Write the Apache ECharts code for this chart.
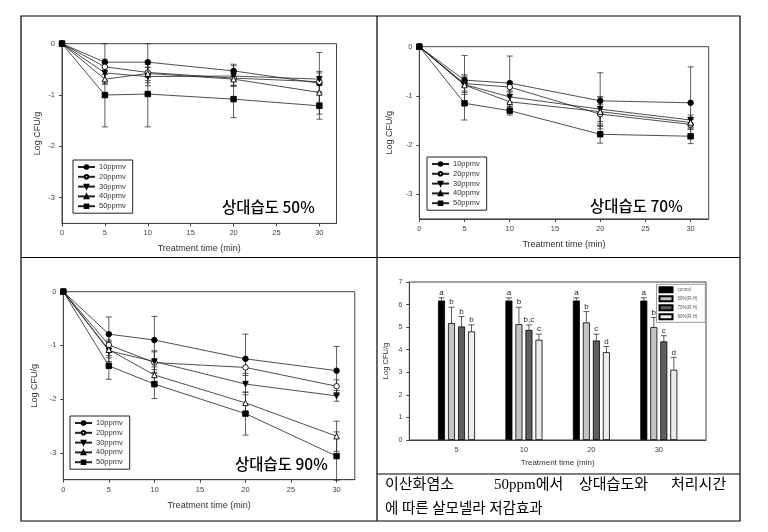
<!DOCTYPE html>
<html><head><meta charset="utf-8">
<script src="https://cdn.jsdelivr.net/npm/echarts@6/dist/echarts.min.js"></script>
<style>html,body{margin:0;padding:0;background:#fff}#c{width:768px;height:532px}</style>
</head><body><div id="c"></div>
<script>
// ---------- data ----------
const times = [0, 5, 10, 20, 30];
const seriesNames = ['10ppmv', '20ppmv', '30ppmv', '40ppmv', '50ppmv'];
const xTicks = [0, 5, 10, 15, 20, 25, 30];
const yTicks = [0, -1, -2, -3];

// RH 50%
const rh50_10 = [0, -0.36, -0.36, -0.53, -0.77];
const rh50_20 = [0, -0.45, -0.56, -0.67, -0.74];
const rh50_30 = [0, -0.57, -0.64, -0.63, -0.69];
const rh50_40 = [0, -0.69, -0.58, -0.69, -0.95];
const rh50_50 = [0, -1.00, -0.98, -1.08, -1.21];
const rh50_10_err = [0, 0.36, 0.36, 0.13, 0.60];
const rh50_20_err = [0, 0.15, 0.10, 0.15, 0.20];
const rh50_30_err = [0, 0.20, 0.18, 0.20, 0.12];
const rh50_40_err = [0, 0.10, 0.18, 0.12, 0.20];
const rh50_50_err = [0, 0.62, 0.64, 0.36, 0.26];

// RH 70%
const rh70_10 = [0, -0.68, -0.74, -1.10, -1.14];
const rh70_20 = [0, -0.75, -0.82, -1.37, -1.58];
const rh70_30 = [0, -0.77, -1.02, -1.27, -1.49];
const rh70_40 = [0, -0.78, -1.12, -1.32, -1.54];
const rh70_50 = [0, -1.15, -1.30, -1.78, -1.82];
const rh70_10_err = [0, 0.50, 0.55, 0.57, 0.73];
const rh70_20_err = [0, 0.15, 0.10, 0.20, 0.10];
const rh70_30_err = [0, 0.20, 0.12, 0.25, 0.10];
const rh70_40_err = [0, 0.15, 0.10, 0.30, 0.10];
const rh70_50_err = [0, 0.34, 0.09, 0.18, 0.15];

// RH 90%
const rh90_10 = [0, -0.79, -0.90, -1.25, -1.47];
const rh90_20 = [0, -0.99, -1.32, -1.41, -1.76];
const rh90_30 = [0, -1.10, -1.30, -1.72, -1.94];
const rh90_40 = [0, -1.08, -1.55, -2.07, -2.69];
const rh90_50 = [0, -1.38, -1.72, -2.27, -3.06];
const rh90_10_err = [0, 0.32, 0.44, 0.46, 0.45];
const rh90_20_err = [0, 0.20, 0.20, 0.15, 0.12];
const rh90_30_err = [0, 0.20, 0.20, 0.20, 0.10];
const rh90_40_err = [0, 0.15, 0.15, 0.20, 0.28];
const rh90_50_err = [0, 0.25, 0.27, 0.40, 0.45];

// Bar panel (50 ppm ClO2)
const barTimes = ['5', '10', '20', '30'];
const barNames = ['control', '50%(R.H)', '70%(R.H)', '90%(R.H)'];
const barControl = [6.18, 6.18, 6.18, 6.18];
const barRH50 = [5.18, 5.13, 5.21, 5.00];
const barRH70 = [5.03, 4.88, 4.41, 4.37];
const barRH90 = [4.81, 4.44, 3.89, 3.11];
const barControl_err = [0.12, 0.12, 0.12, 0.12];
const barRH50_err = [0.70, 0.75, 0.48, 0.43];
const barRH70_err = [0.44, 0.22, 0.28, 0.25];
const barRH90_err = [0.29, 0.25, 0.25, 0.55];
const barControl_lbl = ['a', 'a', 'a', 'a'];
const barRH50_lbl = ['b', 'b', 'b', 'b'];
const barRH70_lbl = ['b', 'b,c', 'c', 'c'];
const barRH90_lbl = ['b', 'c', 'd', 'd'];

const panelLabels = ['상대습도 50%', '상대습도 70%', '상대습도 90%'];
const captionLine1 = ['이산화염소', '50ppm에서', '상대습도와', '처리시간'];
const captionLine2 = '에 따른 살모넬라 저감효과';

// ---------- styles ----------
const FONT = 'Liberation Sans, Arial, sans-serif';
const KFONT = 'Noto Sans CJK KR, sans-serif';
const CFONT = 'Liberation Serif, Noto Sans CJK KR, serif';
const lineCol = '#222';
const symbolDefs = [
  {symbol: 'circle', color: '#000', rotate: 0},
  {symbol: 'circle', color: '#fff', rotate: 0},
  {symbol: 'triangle', color: '#000', rotate: 180},
  {symbol: 'triangle', color: '#fff', rotate: 0},
  {symbol: 'rect', color: '#000', rotate: 0}
];
const barColors = ['#000000', '#c4c4c4', '#5e5e5e', '#ececec'];

const panels = [
  {means: [rh50_10, rh50_20, rh50_30, rh50_40, rh50_50], errs: [rh50_10_err, rh50_20_err, rh50_30_err, rh50_40_err, rh50_50_err],
   grid: {left: 62, top: 43.7, width: 274.5, height: 179.7}, yGap: 20, xGap: 21, legend: {left: 73, top: 160}, label: {left: 222, top: 199}},
  {means: [rh70_10, rh70_20, rh70_30, rh70_40, rh70_50], errs: [rh70_10_err, rh70_20_err, rh70_30_err, rh70_40_err, rh70_50_err],
   grid: {left: 419.3, top: 46.7, width: 289.4, height: 172.2}, yGap: 25, xGap: 21, legend: {left: 427, top: 157}, label: {left: 590, top: 198}},
  {means: [rh90_10, rh90_20, rh90_30, rh90_40, rh90_50], errs: [rh90_10_err, rh90_20_err, rh90_30_err, rh90_40_err, rh90_50_err],
   grid: {left: 63.3, top: 291.7, width: 291.5, height: 188}, yGap: 24, xGap: 21, legend: {left: 70, top: 416}, label: {left: 235, top: 456}}
];

const grids = [], xAxes = [], yAxes = [], series = [], legends = [], titles = [];

function errRender(params, api) {
  const x = api.value(0), y = api.value(1), e = api.value(2);
  if (!e) return null;
  const top = api.coord([x, y + e]);
  const bot = api.coord([x, y - e]);
  const s = {stroke: '#333', lineWidth: 0.8};
  return {type: 'group', children: [
    {type: 'line', shape: {x1: top[0], y1: top[1], x2: bot[0], y2: bot[1]}, style: s},
    {type: 'line', shape: {x1: top[0] - 3, y1: top[1], x2: top[0] + 3, y2: top[1]}, style: s},
    {type: 'line', shape: {x1: bot[0] - 3, y1: bot[1], x2: bot[0] + 3, y2: bot[1]}, style: s}
  ]};
}

const axisText = {fontFamily: FONT, fontSize: 7.5, color: '#444'};
const nameText = {fontFamily: FONT, fontSize: 9, color: '#333'};

panels.forEach((p, gi) => {
  grids.push(Object.assign({show: true, borderColor: '#444', borderWidth: 1, backgroundColor: '#fff'}, p.grid));
  xAxes.push({gridIndex: gi, type: 'value', min: 0, max: 32, position: 'bottom',
    name: 'Treatment time (min)', nameLocation: 'middle', nameGap: p.xGap, nameTextStyle: nameText,
    axisLine: {show: true, onZero: false, lineStyle: {color: '#444', width: 1}},
    axisTick: {show: true, inside: false, length: 3, customValues: xTicks, lineStyle: {color: '#444'}},
    axisLabel: Object.assign({customValues: xTicks, margin: 6}, axisText),
    splitLine: {show: false}});
  yAxes.push({gridIndex: gi, type: 'value', min: -3.5, max: 0,
    name: 'Log CFU/g', nameLocation: 'middle', nameGap: p.yGap, nameTextStyle: nameText,
    axisLine: {show: true, onZero: false, lineStyle: {color: '#444', width: 1}},
    axisTick: {show: true, inside: false, length: 3, customValues: yTicks, lineStyle: {color: '#444'}},
    axisLabel: Object.assign({customValues: yTicks, margin: 7}, axisText),
    splitLine: {show: false}});
  p.means.forEach((m, si) => {
    const sd = symbolDefs[si];
    series.push({type: 'custom', name: 'err' + gi + '_' + si, xAxisIndex: gi, yAxisIndex: gi, z: 1,
      renderItem: errRender, data: times.map((t, i) => [t, m[i], p.errs[si][i]]), silent: true});
    series.push({type: 'line', name: seriesNames[si], xAxisIndex: gi, yAxisIndex: gi, z: 3,
      data: times.map((t, i) => [t, m[i]]), symbol: sd.symbol, symbolRotate: sd.rotate,
      symbolSize: 5.5, showAllSymbol: true,
      lineStyle: {color: lineCol, width: 0.8},
      itemStyle: {color: sd.color, borderColor: '#000', borderWidth: 0.9},
      emphasis: {disabled: true}, animation: false});
  });
  legends.push({show: true, data: seriesNames, orient: 'vertical', left: p.legend.left, top: p.legend.top,
    backgroundColor: '#fff', borderColor: '#222', borderWidth: 1, padding: [3, 7, 3, 4],
    itemWidth: 17, itemHeight: 4.5, itemGap: 1.8, selectedMode: false,
    textStyle: {fontFamily: FONT, fontSize: 7.5, color: '#333', lineHeight: 7, padding: [0, 0, 0, -1]}});
  titles.push({text: panelLabels[gi], left: p.label.left, top: p.label.top, padding: 0,
    textStyle: {fontFamily: KFONT, fontSize: 15.5, fontWeight: 500, color: '#000'}});
});

// ---------- bar panel ----------
const gb = 3;
const barW = 7, barGapPx = 3;
grids.push({show: true, borderColor: '#444', borderWidth: 1, left: 409.3, top: 282, width: 296.7, height: 158});
const barCatIdx = barTimes.map((t, i) => i + 1);
xAxes.push({gridIndex: gb, type: 'value', min: 0.3, max: 4.7,
  name: 'Treatment time (min)', nameLocation: 'middle', nameGap: 19, nameTextStyle: Object.assign({}, nameText, {fontSize: 8}),
  axisLine: {show: true, onZero: false, lineStyle: {color: '#444'}},
  axisTick: {show: false},
  axisLabel: Object.assign({customValues: barCatIdx, margin: 6, formatter: v => barTimes[Math.round(v) - 1]}, axisText),
  splitLine: {show: false}});
yAxes.push({gridIndex: gb, type: 'value', min: 0, max: 7, interval: 1,
  name: 'Log CFU/g', nameLocation: 'middle', nameGap: 19, nameTextStyle: Object.assign({}, nameText, {fontSize: 7.5}),
  axisLine: {show: true, lineStyle: {color: '#444'}},
  axisTick: {show: true, inside: false, length: 3, lineStyle: {color: '#444'}},
  axisLabel: Object.assign({margin: 7}, axisText, {fontSize: 7}),
  splitLine: {show: false}});
const barMeans = [barControl, barRH50, barRH70, barRH90];
const barErrs = [barControl_err, barRH50_err, barRH70_err, barRH90_err];
const barLbls = [barControl_lbl, barRH50_lbl, barRH70_lbl, barRH90_lbl];
barMeans.forEach((m, si) => {
  series.push({type: 'bar', name: barNames[si], xAxisIndex: gb, yAxisIndex: gb, z: 2,
    barWidth: barW, barGap: (barGapPx / barW * 100) + '%',
    data: m.map((v, i) => [barCatIdx[i], v]),
    itemStyle: {color: barColors[si], borderColor: '#000', borderWidth: 0.8},
    emphasis: {disabled: true}, animation: false});
});
barMeans.forEach((m, si) => {
  const off = (si - 1.5) * (barW + barGapPx);
  series.push({type: 'custom', name: 'barerr' + si, xAxisIndex: gb, yAxisIndex: gb, z: 3, silent: true,
    data: m.map((v, i) => [barCatIdx[i], v, barErrs[si][i]]),
    renderItem: function (params, api) {
      const x = api.value(0), y = api.value(1), e = api.value(2);
      const base = api.coord([x, y]);
      const top = api.coord([x, y + e]);
      const cx = base[0] + off;
      const s = {stroke: '#333', lineWidth: 0.8};
      return {type: 'group', children: [
        {type: 'line', shape: {x1: cx, y1: base[1], x2: cx, y2: top[1]}, style: s},
        {type: 'line', shape: {x1: cx - 3, y1: top[1], x2: cx + 3, y2: top[1]}, style: s},
        {type: 'text', style: {text: barLbls[si][params.dataIndex], x: cx, y: top[1] - 1,
          align: 'center', verticalAlign: 'bottom', fontFamily: FONT, fontSize: 8, fill: '#222'}}
      ]};
    }});
});
legends.push({show: true, data: barNames, orient: 'vertical', left: 656.5, top: 284.3,
  backgroundColor: '#fff', borderColor: '#999', borderWidth: 1, padding: [2, 8, 2, 2],
  icon: 'rect', itemWidth: 13, itemHeight: 5, itemGap: 2, selectedMode: false,
  textStyle: {fontFamily: FONT, fontSize: 4.5, color: '#555', lineHeight: 5}});

// ---------- table frame & caption ----------
const L = 21, R = 740, T = 16, B = 521, MX = 377, MY = 257.5, CY = 474;
const frameStyle = {stroke: '#000', lineWidth: 1.2};
const graphic = [
  {type: 'rect', shape: {x: L, y: T, width: R - L, height: B - T}, style: {fill: 'none', stroke: '#000', lineWidth: 1.2}, z: 100},
  {type: 'line', shape: {x1: MX, y1: T, x2: MX, y2: B}, style: frameStyle, z: 100},
  {type: 'line', shape: {x1: L, y1: MY, x2: R, y2: MY}, style: frameStyle, z: 100},
  {type: 'line', shape: {x1: MX, y1: CY, x2: R, y2: CY}, style: frameStyle, z: 100}
];
// caption line 1 is justified across the cell: word anchors (left edges)
const cap1X = [385, 494, 579, 671];
captionLine1.forEach((w, i) => {
  graphic.push({type: 'text', left: cap1X[i], top: 478, z: 100,
    style: {text: w, fontFamily: CFONT, fontSize: 15, fill: '#000'}});
});
graphic.push({type: 'text', left: 385, top: 502, z: 100,
  style: {text: captionLine2, fontFamily: CFONT, fontSize: 14.5, fill: '#000'}});

const chart = echarts.init(document.getElementById('c'), null, {renderer: 'canvas'});
chart.setOption({
  animation: false,
  backgroundColor: '#fff',
  title: titles,
  grid: grids, xAxis: xAxes, yAxis: yAxes, legend: legends, series: series, graphic: graphic
});
</script></body></html>
